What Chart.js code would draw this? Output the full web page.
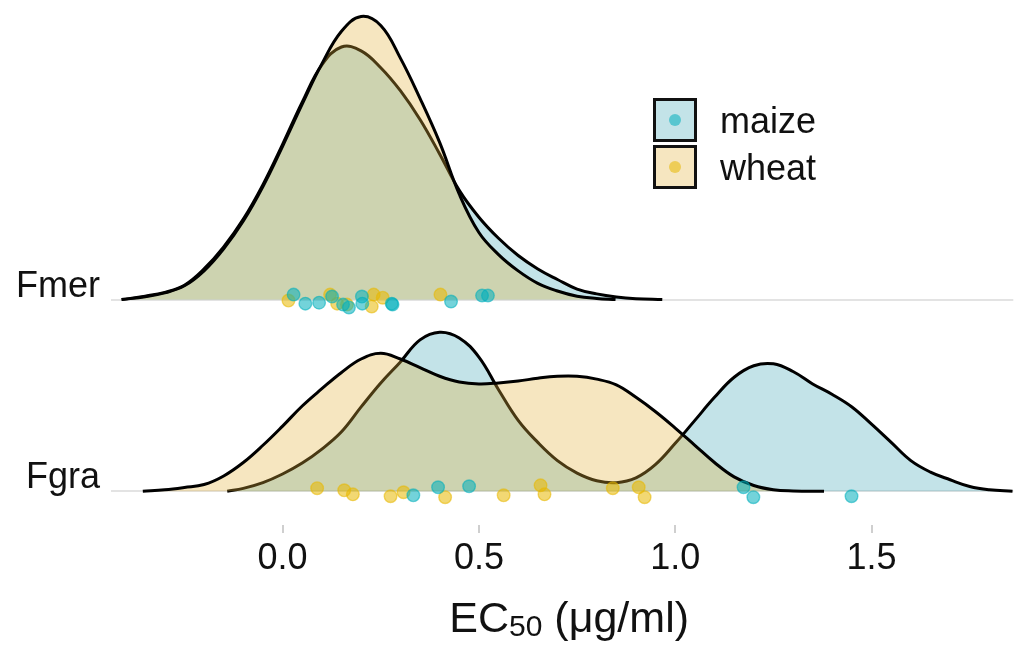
<!DOCTYPE html>
<html>
<head>
<meta charset="utf-8">
<script src="https://cdn.jsdelivr.net/npm/chart.js@4.4.1/dist/chart.umd.min.js"></script>
<style>
  html, body { margin: 0; background: #fff; }
  canvas { display: block; }
</style>
</head>
<body>
<canvas id="ridges" width="1021" height="649"></canvas>
<script>
/* Ridgeline densities of EC50 per species, host crop as fill, raw isolates as dots */

const ROWS = ["Fgra", "Fmer"];           // y = 0, y = 1
const X_TICKS = [0, 0.5, 1, 1.5];
const HOSTS = ["maize", "wheat"];

// density curves (x in µg/ml, height in ridge units)
const FMER_MAIZE_X = [-0.41, -0.35, -0.3, -0.25, -0.2, -0.15, -0.1, -0.05, 0, 0.05, 0.1, 0.15, 0.2, 0.25, 0.3, 0.35, 0.4, 0.45, 0.5, 0.55, 0.6, 0.65, 0.7, 0.75, 0.8, 0.85, 0.9, 0.967];
const FMER_MAIZE_D = [0, 0.018, 0.038, 0.075, 0.16, 0.275, 0.42, 0.6, 0.81, 1.03, 1.225, 1.318, 1.298, 1.21, 1.09, 0.94, 0.76, 0.57, 0.43, 0.32, 0.23, 0.16, 0.105, 0.055, 0.03, 0.014, 0.005, 0];

const FMER_WHEAT_X = [-0.41, -0.35, -0.3, -0.25, -0.2, -0.15, -0.1, -0.05, 0, 0.05, 0.1, 0.15, 0.2, 0.25, 0.3, 0.35, 0.4, 0.45, 0.5, 0.55, 0.6, 0.65, 0.7, 0.75, 0.8, 0.848];
const FMER_WHEAT_D = [0, 0.015, 0.035, 0.072, 0.15, 0.265, 0.41, 0.59, 0.8, 1.02, 1.23, 1.4, 1.477, 1.43, 1.26, 1.05, 0.82, 0.55, 0.35, 0.235, 0.15, 0.085, 0.045, 0.018, 0.006, 0];

const FGRA_MAIZE_X = [-0.141, -0.1, -0.05, 0, 0.05, 0.1, 0.15, 0.2, 0.25, 0.3, 0.35, 0.4, 0.45, 0.5, 0.55, 0.6, 0.65, 0.7, 0.75, 0.8, 0.85, 0.9, 0.95, 1, 1.05, 1.1, 1.15, 1.2, 1.25, 1.3, 1.35, 1.4, 1.45, 1.5, 1.55, 1.6, 1.65, 1.7, 1.75, 1.8, 1.859];
const FGRA_MAIZE_D = [0, 0.015, 0.045, 0.09, 0.147, 0.22, 0.31, 0.44, 0.565, 0.675, 0.79, 0.83, 0.8, 0.7, 0.53, 0.37, 0.255, 0.16, 0.095, 0.055, 0.045, 0.07, 0.14, 0.25, 0.37, 0.49, 0.595, 0.655, 0.665, 0.625, 0.56, 0.505, 0.44, 0.35, 0.255, 0.16, 0.1, 0.06, 0.025, 0.008, 0];

const FGRA_WHEAT_X = [-0.356, -0.3, -0.25, -0.2, -0.15, -0.1, -0.05, 0, 0.05, 0.1, 0.15, 0.2, 0.25, 0.3, 0.35, 0.4, 0.45, 0.5, 0.55, 0.6, 0.65, 0.7, 0.75, 0.8, 0.85, 0.9, 0.95, 1, 1.05, 1.1, 1.15, 1.2, 1.25, 1.3, 1.379];
const FGRA_WHEAT_D = [0, 0.008, 0.02, 0.035, 0.08, 0.15, 0.24, 0.34, 0.445, 0.535, 0.62, 0.69, 0.72, 0.69, 0.645, 0.6, 0.57, 0.56, 0.565, 0.575, 0.59, 0.6, 0.6, 0.585, 0.555, 0.49, 0.415, 0.33, 0.24, 0.15, 0.075, 0.03, 0.008, 0.002, 0];

// isolates (EC50) and their vertical jitter around the ridge baseline
const FMER_MAIZE_PTS = [0.028, 0.058, 0.093, 0.126, 0.154, 0.169, 0.202, 0.203, 0.278, 0.28, 0.429, 0.508, 0.523];
const FMER_MAIZE_JIT = [0.026, -0.021, -0.016, 0.016, -0.026, -0.041, 0.016, -0.021, -0.021, -0.026, -0.01, 0.021, 0.021];
const FMER_WHEAT_PTS = [0.015, 0.121, 0.139, 0.164, 0.227, 0.232, 0.255, 0.402];
const FMER_WHEAT_JIT = [-0.005, 0.026, -0.021, -0.026, -0.036, 0.026, 0.01, 0.026];
const FGRA_MAIZE_PTS = [0.333, 0.396, 0.475, 1.174, 1.199, 1.449];
const FGRA_MAIZE_JIT = [-0.021, 0.021, 0.026, 0.021, -0.031, -0.026];
const FGRA_WHEAT_PTS = [0.088, 0.157, 0.179, 0.275, 0.308, 0.414, 0.563, 0.657, 0.667, 0.841, 0.907, 0.922];
const FGRA_WHEAT_JIT = [0.016, 0.005, -0.016, -0.026, -0.005, -0.031, -0.021, 0.031, -0.016, 0.016, 0.021, -0.031];

const FILL = { maize: "rgba(55,162,178,0.30)", wheat: "rgba(227,177,58,0.32)" };
const DOT = { maize: "rgba(0,175,187,0.55)", wheat: "rgba(231,184,0,0.55)" };
const FONT = "'Liberation Sans', Arial, sans-serif";

const onRow = (xs, ys, base) => xs.map((x, i) => ({ x, y: base + ys[i] }));

function ridge(host, xs, ds, base) {
  return {
    data: onRow(xs, ds, base),
    borderColor: "#000", borderWidth: 3,
    backgroundColor: FILL[host],
    fill: { value: base },
    pointRadius: 0, tension: 0.4,
    order: host === "maize" ? 3 : 2,
  };
}

function dots(host, xs, js, base) {
  return {
    data: onRow(xs, js, base),
    showLine: false,
    pointRadius: 6.3, pointBorderWidth: 1.4,
    pointBackgroundColor: DOT[host], pointBorderColor: DOT[host],
    order: 1,
  };
}

// legend keys: bordered swatch with a dot, label on the right
const keyLegend = {
  id: "keyLegend",
  afterDraw(chart) {
    const ctx = chart.ctx, s = 44;
    HOSTS.forEach((h, i) => {
      const x = 653, y = 98 + i * 47;
      ctx.save();
      ctx.fillStyle = "#fff"; ctx.fillRect(x, y, s, s);
      ctx.fillStyle = FILL[h]; ctx.fillRect(x, y, s, s);
      ctx.lineWidth = 3; ctx.strokeStyle = "#111";
      ctx.strokeRect(x + 1.5, y + 1.5, s - 3, s - 3);
      ctx.beginPath(); ctx.arc(x + s / 2, y + s / 2, 6, 0, Math.PI * 2);
      ctx.fillStyle = DOT[h]; ctx.fill();
      ctx.fillStyle = "#111"; ctx.font = `36px ${FONT}`;
      ctx.textBaseline = "alphabetic"; ctx.textAlign = "left";
      ctx.fillText(h, 720, y + 35);
      ctx.restore();
    });
  },
};

// x title with a subscripted "50"
const xTitle = {
  id: "xTitle",
  afterDraw(chart) {
    const ctx = chart.ctx, big = `43px ${FONT}`, small = `30px ${FONT}`;
    const parts = [["EC", big, 0], ["50", small, 4], [" (\u03bcg/ml)", big, 0]];
    ctx.save();
    let w = 0;
    parts.forEach(([t, f]) => { ctx.font = f; w += ctx.measureText(t).width; });
    const ca = chart.chartArea;
    let x = (ca.left + ca.right) / 2 - w / 2 + 7;
    ctx.fillStyle = "#111"; ctx.textBaseline = "alphabetic";
    parts.forEach(([t, f, dy]) => {
      ctx.font = f; ctx.fillText(t, x, 632 + dy);
      x += ctx.measureText(t).width;
    });
    ctx.restore();
  },
};

new Chart(document.getElementById("ridges"), {
  type: "line",
  data: {
    datasets: [
      ridge("maize", FMER_MAIZE_X, FMER_MAIZE_D, 1),
      ridge("maize", FGRA_MAIZE_X, FGRA_MAIZE_D, 0),
      ridge("wheat", FMER_WHEAT_X, FMER_WHEAT_D, 1),
      ridge("wheat", FGRA_WHEAT_X, FGRA_WHEAT_D, 0),
      dots("maize", FMER_MAIZE_PTS, FMER_MAIZE_JIT, 1),
      dots("maize", FGRA_MAIZE_PTS, FGRA_MAIZE_JIT, 0),
      dots("wheat", FMER_WHEAT_PTS, FMER_WHEAT_JIT, 1),
      dots("wheat", FGRA_WHEAT_PTS, FGRA_WHEAT_JIT, 0),
    ],
  },
  options: {
    responsive: false, animation: false,
    layout: { padding: { top: 4, right: 0, bottom: 0, left: 0 } },
    plugins: { legend: { display: false }, tooltip: { enabled: false } },
    scales: {
      x: {
        type: "linear", min: -0.437, max: 1.861,
        afterBuildTicks: (s) => { s.ticks = X_TICKS.map((v) => ({ value: v })); },
        afterFit: (s) => { s.height = 124; s.paddingLeft = 0; s.paddingRight = 0; },
        grid: { drawOnChartArea: false, drawTicks: true, tickLength: 8, color: "#cfcfcf", lineWidth: 2 },
        border: { display: false },
        ticks: { color: "#111", font: { family: FONT, size: 36 }, padding: 4, maxRotation: 0,
                 callback: (v) => v.toFixed(1) },
      },
      y: {
        type: "linear", min: -0.176, max: 2.523,
        afterBuildTicks: (s) => { s.ticks = ROWS.map((_, i) => ({ value: i })); },
        // labels sit just above their baselines, so no extra room is needed above/below
        afterFit: (s) => { s.width = 111; s.paddingTop = 0; s.paddingBottom = 0; },
        grid: { color: "#e3e3e3", lineWidth: 2, drawTicks: false },
        border: { display: false },
        ticks: { color: "#111", font: { family: FONT, size: 36 }, padding: 11, labelOffset: -13,
                 callback: (v) => ROWS[v] },
      },
    },
  },
  plugins: [keyLegend, xTitle],
});
</script>
</body>
</html>
